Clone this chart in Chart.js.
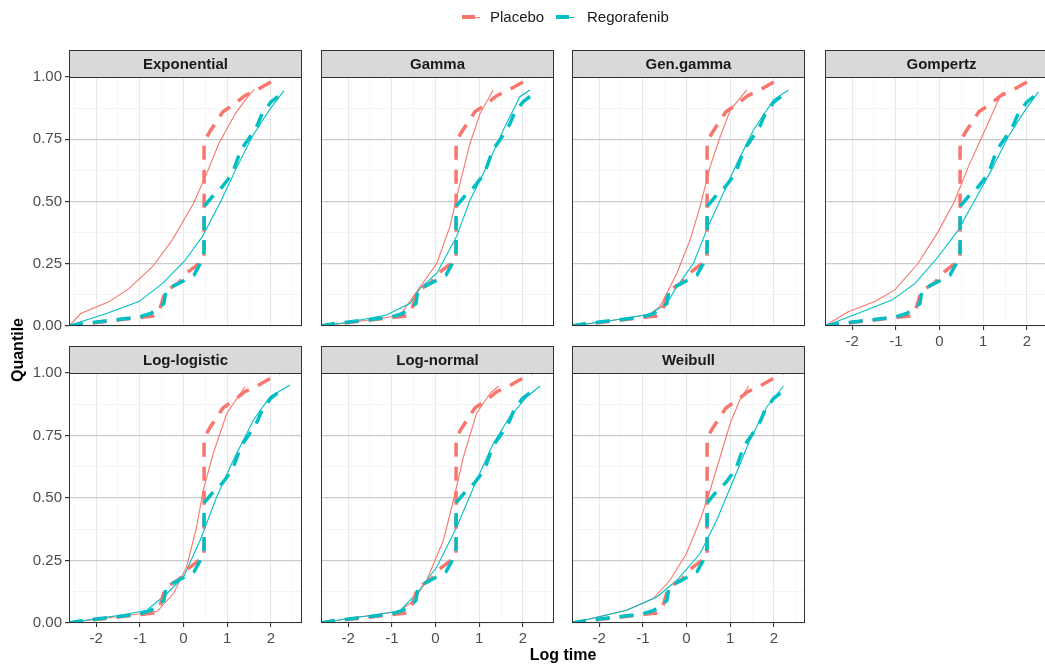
<!DOCTYPE html>
<html>
<head>
<meta charset="utf-8">
<script src="https://cdn.jsdelivr.net/npm/chart.js@4.4.1/dist/chart.umd.min.js"></script>
<style>
html, body { margin: 0; padding: 0; width: 1045px; height: 664px; overflow: hidden; background: #fff; }
#wrap { position: relative; width: 1045px; height: 664px; overflow: hidden; font-family: "Liberation Sans", Arial, sans-serif; }
#wrap canvas { position: absolute; }
.key { position: absolute; top: 17px; height: 0; }
.key .thin { position: absolute; left: 0; top: -0.5px; width: 18px; height: 1px; }
.key .thick { position: absolute; left: 0; top: -1.75px; width: 13px; height: 3.5px; }
.legend-text { position: absolute; top: 8px; font-size: 15px; color: #1a1a1a; line-height: 18px; }
.axis-title { position: absolute; font-weight: bold; font-size: 16px; color: #000; white-space: nowrap; }
</style>
</head>
<body>
<div id="wrap"></div>
<script>
// Data
const panelNames = ['Exponential', 'Gamma', 'Gen.gamma', 'Gompertz', 'Log-logistic', 'Log-normal', 'Weibull'];
const seriesNames = ['Placebo', 'Regorafenib'];
const seriesColours = ['#F8766D', '#00BFC4'];
const xTickValues = [-2, -1, 0, 1, 2];
const yTickLabels = ['0.00', '0.25', '0.50', '0.75', '1.00'];

// observed quantiles (dashed)
const placeboObserved = [[-2.62,0],[-2.3,0.008],[-1.8,0.018],[-1.3,0.028],[-0.9,0.036],[-0.65,0.04],[-0.55,0.062],[-0.42,0.14],[-0.1,0.175],[0.05,0.21],[0.35,0.25],[0.47,0.27],[0.47,0.74],[0.6,0.78],[0.9,0.86],[1.15,0.89],[1.4,0.925],[1.7,0.95],[2.0,0.98],[2.2,1.0]];
const regorafenibObserved = [[-2.62,0],[-2.3,0.01],[-1.8,0.02],[-1.4,0.028],[-1.0,0.037],[-0.75,0.05],[-0.45,0.09],[-0.4,0.145],[-0.1,0.172],[0.24,0.205],[0.38,0.25],[0.47,0.3],[0.47,0.48],[0.66,0.52],[0.89,0.56],[1.12,0.613],[1.31,0.707],[1.5,0.754],[1.69,0.807],[1.8,0.854],[2.0,0.9],[2.3,0.94]];

// fitted quantiles (solid), one pair per model
const expPlacebo = [[-2.62,0],[-2.35,0.05],[-1.7,0.098],[-1.25,0.15],[-0.71,0.238],[-0.26,0.345],[0.22,0.49],[0.5,0.6],[0.81,0.734],[1.19,0.854],[1.5,0.928],[1.62,0.95]];
const expRegorafenib = [[-2.62,0],[-2.3,0.02],[-1.86,0.044],[-1.02,0.098],[-0.48,0.171],[0.01,0.258],[0.43,0.359],[0.85,0.5],[1.19,0.627],[1.57,0.76],[1.96,0.867],[2.3,0.945]];
const gammaPlacebo = [[-2.62,0],[-2,0.013],[-1.4,0.027],[-0.82,0.042],[-0.36,0.155],[0.03,0.252],[0.33,0.4],[0.56,0.573],[0.79,0.734],[1.02,0.854],[1.32,0.948]];
const gammaRegorafenib = [[-2.62,0],[-2,0.015],[-1.12,0.044],[-0.58,0.091],[-0.35,0.152],[0.03,0.212],[0.48,0.359],[0.79,0.506],[1.17,0.64],[1.55,0.787],[1.93,0.921],[2.16,0.948]];
const genGammaPlacebo = [[-2.62,0],[-2,0.015],[-1.4,0.03],[-0.83,0.048],[-0.6,0.08],[-0.4,0.15],[-0.22,0.212],[0.08,0.345],[0.31,0.48],[0.54,0.64],[0.77,0.76],[1.0,0.867],[1.38,0.948]];
const genGammaRegorafenib = [[-2.62,0],[-2,0.015],[-1.4,0.03],[-0.83,0.048],[-0.45,0.091],[-0.22,0.158],[0.16,0.252],[0.46,0.386],[0.77,0.506],[1.15,0.653],[1.53,0.787],[1.99,0.908],[2.33,0.948]];
const gompertzPlacebo = [[-2.62,0],[-2.09,0.057],[-1.48,0.098],[-1.02,0.145],[-0.49,0.252],[-0.03,0.379],[0.34,0.5],[0.66,0.64],[1.04,0.787],[1.38,0.921],[1.45,0.94]];
const gompertzRegorafenib = [[-2.62,0],[-1.86,0.051],[-1.09,0.104],[-0.56,0.171],[-0.03,0.278],[0.43,0.386],[0.79,0.5],[1.19,0.627],[1.57,0.76],[1.96,0.867],[2.26,0.94]];
const logLogisticPlacebo = [[-2.62,0],[-2,0.015],[-1.4,0.028],[-0.85,0.04],[-0.6,0.047],[-0.23,0.118],[0.07,0.224],[0.3,0.384],[0.45,0.531],[0.68,0.678],[0.99,0.839],[1.41,0.946]];
const logLogisticRegorafenib = [[-2.62,0],[-2,0.018],[-1.4,0.032],[-0.84,0.051],[-0.38,0.118],[0,0.184],[0.38,0.331],[0.76,0.505],[1.14,0.652],[1.6,0.812],[1.98,0.905],[2.44,0.952]];
const logNormalPlacebo = [[-2.62,0],[-2,0.018],[-1.4,0.032],[-0.82,0.048],[-0.5,0.09],[-0.2,0.171],[0.18,0.331],[0.41,0.491],[0.64,0.665],[0.94,0.839],[1.25,0.919],[1.44,0.948]];
const logNormalRegorafenib = [[-2.62,0],[-2,0.018],[-1.4,0.032],[-0.82,0.048],[-0.43,0.118],[0.03,0.224],[0.485,0.384],[0.94,0.571],[1.32,0.718],[1.7,0.825],[2.09,0.905],[2.39,0.948]];
const weibullPlacebo = [[-2.62,0],[-2,0.025],[-1.37,0.051],[-0.76,0.098],[-0.38,0.171],[0,0.278],[0.31,0.411],[0.54,0.531],[0.77,0.665],[1.0,0.799],[1.22,0.892],[1.42,0.948]];
const weibullRegorafenib = [[-2.62,0],[-2,0.025],[-1.37,0.051],[-0.68,0.104],[-0.22,0.171],[0.31,0.278],[0.69,0.411],[1.07,0.571],[1.45,0.732],[1.84,0.865],[2.22,0.948]];

const fittedPlacebo = [expPlacebo, gammaPlacebo, genGammaPlacebo, gompertzPlacebo, logLogisticPlacebo, logNormalPlacebo, weibullPlacebo];
const fittedRegorafenib = [expRegorafenib, gammaRegorafenib, genGammaRegorafenib, gompertzRegorafenib, logLogisticRegorafenib, logNormalRegorafenib, weibullRegorafenib];

// Layout (facet grid, 4 columns)
var fontFamily = '"Liberation Sans", Arial, sans-serif';
var colLeft = [69, 321, 572, 825];
var panelW = 233;
var rowStripTop = [50, 346];
var rowPanelH = [249, 250];
var stripH = 27;
var marginLeft = 69;
var marginBottom = 26;
var xMin = -2.62, xMax = 2.71;

const wrap = document.getElementById('wrap');

var stripPlugin = {
    id: 'strip',
    afterDraw: function(chart, args, opts) {
        var ctx = chart.ctx;
        var a = chart.chartArea;
        ctx.save();
        ctx.fillStyle = '#D9D9D9';
        ctx.fillRect(a.left, 0, a.right - a.left, a.top);
        ctx.strokeStyle = '#333333';
        ctx.lineWidth = 1;
        ctx.strokeRect(a.left + 0.5, 0.5, a.right - a.left - 1, a.top);
        ctx.strokeRect(a.left + 0.5, a.top + 0.5, a.right - a.left - 1, a.bottom - a.top - 1);
        ctx.fillStyle = '#1A1A1A';
        ctx.font = 'bold 15px ' + fontFamily;
        ctx.textAlign = 'center';
        ctx.textBaseline = 'middle';
        ctx.fillText(opts.title, (a.left + a.right) / 2, a.top / 2 + 1);
        ctx.restore();
    }
};

function isWhole(v) { return Math.abs(v - Math.round(v)) < 1e-9; }
function isQuarter(v) { return Math.abs(v * 4 - Math.round(v * 4)) < 1e-9; }

function makePanel(i) {
    var row = i < 4 ? 0 : 1;
    var col = i < 4 ? i : i - 4;
    var showY = col === 0;
    var showX = row === 1 || i === 3;

    var canvas = document.createElement('canvas');
    var w = marginLeft + panelW;
    var h = stripH + rowPanelH[row] + marginBottom;
    canvas.width = w;
    canvas.height = h;
    canvas.style.left = (colLeft[col] - marginLeft) + 'px';
    canvas.style.top = rowStripTop[row] + 'px';
    canvas.style.width = w + 'px';
    canvas.style.height = h + 'px';
    wrap.appendChild(canvas);

    var datasets = [
        { data: regorafenibObserved, borderColor: seriesColours[1], borderWidth: 3.5, borderDash: [14, 10] },
        { data: placeboObserved, borderColor: seriesColours[0], borderWidth: 3.5, borderDash: [14, 10] },
        { data: fittedRegorafenib[i], borderColor: seriesColours[1], borderWidth: 1.1 },
        { data: fittedPlacebo[i], borderColor: seriesColours[0], borderWidth: 1.1 }
    ];
    datasets.forEach(function(d) {
        d.pointRadius = 0;
        d.tension = 0;
        d.fill = false;
        d.borderCapStyle = 'butt';
    });

    new Chart(canvas, {
        type: 'line',
        data: { datasets: datasets },
        plugins: [stripPlugin],
        options: {
            responsive: false,
            animation: false,
            devicePixelRatio: 1,
            events: [],
            layout: { padding: { top: stripH, left: 0, right: 0, bottom: 0 } },
            plugins: {
                legend: { display: false },
                tooltip: { enabled: false },
                strip: { title: panelNames[i] }
            },
            scales: {
                x: {
                    type: 'linear',
                    min: xMin,
                    max: xMax,
                    afterFit: function(s) { s.height = marginBottom; },
                    border: { display: false },
                    grid: {
                        drawTicks: showX,
                        tickLength: 4,
                        tickColor: function(c) { return isWhole(c.tick.value) ? '#333333' : 'rgba(0,0,0,0)'; },
                        color: function(c) { return isWhole(c.tick.value) ? '#E8E8E8' : '#F3F3F3'; },
                        lineWidth: function(c) { return isWhole(c.tick.value) ? 1.1 : 0.6; }
                    },
                    ticks: {
                        display: showX,
                        stepSize: 0.5,
                        includeBounds: false,
                        autoSkip: false,
                        maxRotation: 0,
                        padding: 3,
                        color: '#4D4D4D',
                        font: { family: fontFamily, size: 15 },
                        callback: function(v) {
                            return xTickValues.indexOf(Math.round(v)) >= 0 && isWhole(v) ? String(Math.round(v)) : '';
                        }
                    }
                },
                y: {
                    type: 'linear',
                    min: 0,
                    max: 1,
                    afterFit: function(s) { s.width = marginLeft; },
                    border: { display: false },
                    grid: {
                        drawTicks: showY,
                        tickLength: 4,
                        tickColor: function(c) { return isQuarter(c.tick.value) ? '#333333' : 'rgba(0,0,0,0)'; },
                        color: function(c) { return isQuarter(c.tick.value) ? '#CBCBCB' : '#EDEDED'; },
                        lineWidth: function(c) { return isQuarter(c.tick.value) ? 1.2 : 0.6; }
                    },
                    ticks: {
                        display: showY,
                        stepSize: 0.125,
                        autoSkip: false,
                        padding: 3,
                        color: '#4D4D4D',
                        font: { family: fontFamily, size: 15 },
                        callback: function(v) {
                            return isQuarter(v) ? yTickLabels[Math.round(v * 4)] : '';
                        }
                    }
                }
            }
        }
    });
}

for (var i = 0; i < panelNames.length; i++) {
    makePanel(i);
}

// Legend
var keyLeft = [462, 556];
var textLeft = [490, 587];
seriesNames.forEach(function(name, k) {
    var key = document.createElement('div');
    key.className = 'key';
    key.style.left = keyLeft[k] + 'px';
    key.innerHTML = '<div class="thin" style="background:' + seriesColours[k] + '"></div>' +
                    '<div class="thick" style="background:' + seriesColours[k] + '"></div>';
    wrap.appendChild(key);
    var label = document.createElement('div');
    label.className = 'legend-text';
    label.style.left = textLeft[k] + 'px';
    label.textContent = name;
    wrap.appendChild(label);
});

// Axis titles
var yTitle = document.createElement('div');
yTitle.className = 'axis-title';
yTitle.textContent = 'Quantile';
yTitle.style.left = '18px';
yTitle.style.top = '350px';
yTitle.style.transform = 'translate(-50%, -50%) rotate(-90deg)';
wrap.appendChild(yTitle);

var xTitle = document.createElement('div');
xTitle.className = 'axis-title';
xTitle.textContent = 'Log time';
xTitle.style.left = '563px';
xTitle.style.top = '655px';
xTitle.style.transform = 'translate(-50%, -50%)';
wrap.appendChild(xTitle);
</script>
</body>
</html>
